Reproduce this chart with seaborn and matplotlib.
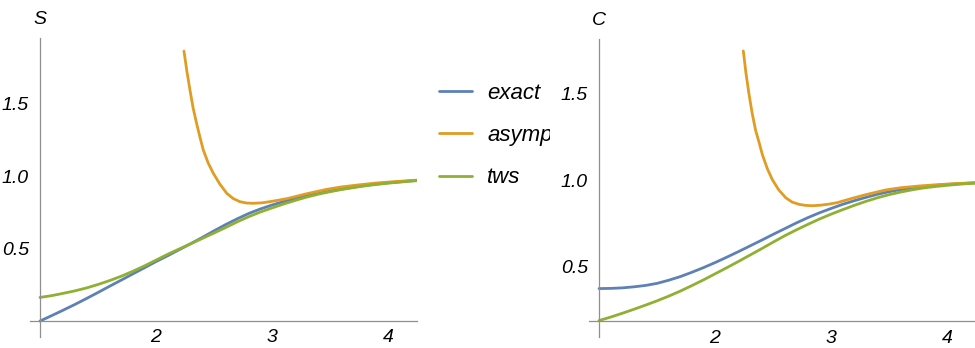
import numpy as np
import pandas as pd
import matplotlib
matplotlib.use("Agg")
import matplotlib.pyplot as plt
import matplotlib.transforms as mtransforms
from matplotlib.ticker import FixedLocator
from matplotlib.lines import Line2D
import seaborn as sns

# ---------------- data ----------------
x_grid_S = [1.0, 1.1, 1.2, 1.3, 1.4, 1.5, 1.6, 1.7, 1.8, 1.9, 2.0, 2.1, 2.2, 2.3, 2.4, 2.5, 2.6,
            2.7, 2.8, 2.9, 3.0, 3.1, 3.2, 3.3, 3.4, 3.5, 3.6, 3.7, 3.8, 3.9, 4.0, 4.1, 4.2, 4.25]
S_exact = [0.000, 0.037, 0.075, 0.114, 0.155, 0.197, 0.240, 0.282, 0.325, 0.367, 0.410, 0.450,
           0.492, 0.534, 0.577, 0.622, 0.665, 0.705, 0.742, 0.773, 0.800, 0.824, 0.845, 0.864,
           0.880, 0.896, 0.910, 0.923, 0.935, 0.945, 0.953, 0.960, 0.967, 0.970]
S_tws = [0.163, 0.175, 0.191, 0.208, 0.228, 0.252, 0.279, 0.309, 0.343, 0.380, 0.420, 0.460,
         0.497, 0.533, 0.570, 0.607, 0.645, 0.684, 0.720, 0.752, 0.780, 0.807, 0.832, 0.855,
         0.875, 0.892, 0.907, 0.920, 0.932, 0.942, 0.951, 0.958, 0.965, 0.968]
x_asym_S = [2.241, 2.267, 2.293, 2.32, 2.35, 2.38, 2.408, 2.45, 2.494, 2.55, 2.61, 2.665, 2.724,
            2.78, 2.839, 2.91, 2.98, 3.06, 3.14, 3.3, 3.471, 3.6, 3.759, 3.9, 4.046, 4.25]
S_asymp = [1.862, 1.720, 1.593, 1.470, 1.363, 1.265, 1.179, 1.090, 1.019, 0.945, 0.881, 0.845,
           0.823, 0.814, 0.812, 0.815, 0.823, 0.834, 0.846, 0.878, 0.908, 0.925, 0.940, 0.952,
           0.961, 0.972]

x_grid_C = [1.0, 1.1, 1.2, 1.3, 1.4, 1.5, 1.6, 1.7, 1.8, 1.9, 2.0, 2.1, 2.2, 2.3, 2.4, 2.5, 2.6,
            2.7, 2.8, 2.9, 3.0, 3.1, 3.2, 3.3, 3.4, 3.5, 3.6, 3.7, 3.8, 3.9, 4.0, 4.1, 4.2, 4.24]
C_exact = [0.375, 0.376, 0.379, 0.385, 0.393, 0.405, 0.423, 0.444, 0.469, 0.496, 0.525, 0.556,
           0.588, 0.621, 0.654, 0.688, 0.721, 0.754, 0.785, 0.813, 0.838, 0.862, 0.883, 0.902,
           0.920, 0.935, 0.947, 0.957, 0.965, 0.971, 0.977, 0.981, 0.985, 0.986]
C_tws = [0.190, 0.210, 0.232, 0.255, 0.279, 0.304, 0.331, 0.360, 0.392, 0.425, 0.460, 0.495,
         0.531, 0.568, 0.605, 0.643, 0.680, 0.714, 0.746, 0.777, 0.805, 0.831, 0.856, 0.879,
         0.900, 0.918, 0.933, 0.946, 0.957, 0.965, 0.972, 0.978, 0.983, 0.985]
x_asym_C = [2.244, 2.267, 2.293, 2.32, 2.35, 2.38, 2.408, 2.45, 2.494, 2.55, 2.61, 2.665, 2.724,
            2.78, 2.84, 2.91, 2.98, 3.055, 3.184, 3.3, 3.471, 3.6, 3.759, 3.9, 4.046, 4.24]
C_asymp = [1.749, 1.620, 1.500, 1.390, 1.290, 1.220, 1.150, 1.070, 1.005, 0.945, 0.900, 0.875,
           0.862, 0.856, 0.854, 0.857, 0.863, 0.872, 0.897, 0.918, 0.945, 0.958, 0.968, 0.975,
           0.981, 0.987]

labels = ["exact", "asymptotic", "tws"]
colors = ["#5E81B5", "#E19C24", "#8FB032"]


def long_df(xg, exact, xa, asym, tws):
    parts = [
        pd.DataFrame({"x": xg, "y": exact, "curve": labels[0]}),
        pd.DataFrame({"x": xa, "y": asym, "curve": labels[1]}),
        pd.DataFrame({"x": xg, "y": tws, "curve": labels[2]}),
    ]
    return pd.concat(parts, ignore_index=True)


df_S = long_df(x_grid_S, S_exact, x_asym_S, S_asymp, S_tws)
df_C = long_df(x_grid_C, C_exact, x_asym_C, C_asymp, C_tws)

# ---------------- style ----------------
sns.set_style("white")
plt.rcParams["font.family"] = ["Liberation Sans", "DejaVu Sans"]
plt.rcParams["font.style"] = "italic"
plt.rcParams["text.color"] = "black"
plt.rcParams["xtick.labelcolor"] = "black"
plt.rcParams["ytick.labelcolor"] = "black"
AXC = "#8f8f8f"

W, H = 975, 348
fig = plt.figure(figsize=(W / 100, H / 100), dpi=100)
ax1 = fig.add_axes([30 / W, 11 / H, 387 / W, 299 / H])
ax2 = fig.add_axes([589 / W, 11 / H, 386 / W, 298 / H])

palette = dict(zip(labels, colors))
for ax, df in ((ax1, df_S), (ax2, df_C)):
    sns.lineplot(data=df, x="x", y="y", hue="curve", hue_order=labels, palette=palette,
                 sort=False, estimator=None, linewidth=2.0, ax=ax, legend=False)

ax1.set_xlim(0.914, 4.25)
ax1.set_ylim(-0.110, 1.952)
ax2.set_xlim(0.914, 4.241)
ax2.set_ylim(0.095, 1.818)

origins = {ax1: (1.0, 0.0), ax2: (1.0, 0.186)}
for ax, name in ((ax1, "S"), (ax2, "C")):
    ox, oy = origins[ax]
    for s in ("top", "right"):
        ax.spines[s].set_visible(False)
    ax.spines["left"].set_position(("data", ox))
    ax.spines["bottom"].set_position(("data", oy))
    for s in ("left", "bottom"):
        ax.spines[s].set_color(AXC)
        ax.spines[s].set_linewidth(0.9)
    ax.set_xticks([2, 3, 4])
    ax.set_xticklabels(["2", "3", "4"])
    ax.set_yticks([0.5, 1.0, 1.5])
    ax.set_yticklabels(["0.5", "1.0", "1.5"])
    xmin = [v for v in np.arange(1.2, 4.25, 0.2) if abs(v - round(v)) > 1e-6]
    ymin_t = [v for v in np.arange(0.1, 1.95, 0.1)
              if v > oy + 0.01 and abs(v * 2 - round(v * 2)) > 1e-6]
    ax.xaxis.set_minor_locator(FixedLocator(xmin))
    ax.yaxis.set_minor_locator(FixedLocator(ymin_t))
    ax.tick_params(which="major", direction="in", length=3.5, width=0.8, color=AXC,
                   labelsize=14)
    ax.tick_params(which="minor", direction="in", length=2.0, width=0.7, color=AXC)
    ax.tick_params(axis="x", which="major", pad=6)
    ax.tick_params(axis="y", which="major", pad=8)
    ax.set_xlabel("")
    ax.set_ylabel("")
    ax.grid(False)
    tr = mtransforms.blended_transform_factory(ax.transData, ax.transAxes)
    ax.text(ox, 1.035, name, transform=tr, ha="center", va="bottom", fontsize=14,
            style="italic")

# legend (clipped by the right panel, as in the reference)
handles = [Line2D([], [], color=c, lw=2.0) for c in colors]
leg = fig.legend(handles, labels, loc="center left", bbox_to_anchor=(439 / W, 1 - 135.5 / H),
                 frameon=False, fontsize=16, handlelength=1.5, handletextpad=0.68,
                 labelspacing=0.96, borderpad=0, borderaxespad=0)
clip = mtransforms.TransformedBbox(mtransforms.Bbox([[0, 0], [550 / W, 1]]), fig.transFigure)
for t in leg.get_texts():
    t.set_clip_box(clip)
    t.set_clip_on(True)

fig.savefig("out.png", dpi=100)
